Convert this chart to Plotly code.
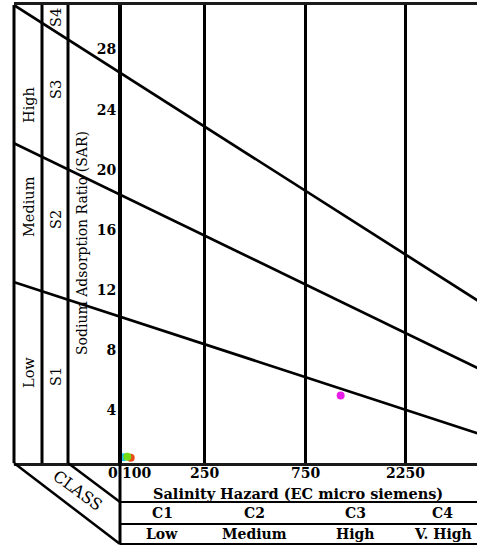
import math
import plotly.graph_objects as go

# Salinity (EC) classes, micro siemens
class_edges = [100, 250, 750, 2250, 5000]
class_codes = ["C1", "C2", "C3", "C4"]
class_names = ["Low", "Medium", "High", "V. High"]
ec_ticks = [100, 250, 750, 2250]
ec_tick_text = ["100", "250", "750", "2250"]
sar_ticks = [4, 8, 12, 16, 20, 24, 28]

# Sodium hazard boundaries: SAR at the two ends of the EC span
boundary_ec = [30, 5000]
boundary_s1_s2 = [12.15, 1.94]
boundary_s2_s3 = [21.45, 6.27]
boundary_s3_s4 = [30.69, 10.75]

# Water samples
sample_names = ["W1", "W2", "W3", "W4"]
sample_ec = [103.6, 112.4, 108.3, 1105]
sample_sar = [0.38, 0.35, 0.42, 4.5]
sample_colors = ["#19c3ea", "#ec4a1c", "#74dc14", "#e81ee8"]

W, H = 477, 546
ML, MR, MT, MB = 14, 0, 5, 83
PW, PH = W - ML - MR, H - MT - MB
SERIF = "DejaVu Serif"


def px_x(x):
    return (x - ML) / PW


def px_y(y):
    return (H - MB - y) / PH


fig = go.Figure()

for sar in (boundary_s1_s2, boundary_s2_s3, boundary_s3_s4):
    fig.add_trace(go.Scatter(x=boundary_ec, y=sar, mode="lines",
                             line=dict(color="black", width=2.7),
                             hoverinfo="skip", showlegend=False))

for name, ec, sar, col in zip(sample_names, sample_ec, sample_sar, sample_colors):
    fig.add_trace(go.Scatter(x=[ec], y=[sar], mode="markers", name=name,
                             marker=dict(color=col, size=8, line=dict(width=0)),
                             showlegend=False))

axis_x = px_x(120)
lw = 2.5
shapes = []


def seg(x0, y0, x1, y1, w=lw):
    shapes.append(dict(type="line", xref="paper", yref="paper",
                       x0=px_x(x0), y0=px_y(y0), x1=px_x(x1), y1=px_y(y1),
                       line=dict(color="black", width=w), layer="above"))


# class columns on the left
seg(14, 5, 14, 463, 3)
seg(42, 5, 42, 463, 3)
seg(68, 5, 68, 463, 3)
# bevelled foot
seg(14, 463, 120, 544)
seg(68, 463, 120, 502)
seg(120, 463, 120, 544, 3)
# salinity class table
for yy in (502, 524, 544):
    seg(120, yy, 480, yy, 2)

ann = []


def label(text, x, y, size=14, bold=False, angle=0, xanchor="center", xref="paper"):
    ann.append(dict(text=text, x=x, y=y, xref=xref, yref="paper",
                    showarrow=False, textangle=angle, xanchor=xanchor,
                    yanchor="middle",
                    font=dict(family=SERIF, size=size, color="black",
                              weight="bold" if bold else "normal")))


label("Sodium Adsorption Ratio (SAR)", px_x(82), px_y(243), size=14, angle=-90)
for t, y in (("High", 105), ("Medium", 207), ("Low", 373)):
    label(t, px_x(29), px_y(y), size=14.5, angle=-90)
for t, y in (("S4", 18), ("S3", 90), ("S2", 220), ("S1", 377)):
    label(t, px_x(56), px_y(y), size=14.5, angle=-90)
label("CLASS", px_x(78), px_y(490), size=16, angle=36)

# EC tick labels; the first edge is labelled "0" on the left and "100" on the right
label("0", math.log10(ec_ticks[0]), px_y(473), bold=True, xanchor="right", xref="x")
for i, (v, t) in enumerate(zip(ec_ticks, ec_tick_text)):
    label(t, math.log10(v), px_y(473), bold=True,
          xanchor="left" if i == 0 else "center", xref="x")
label("Salinity Hazard (EC micro siemens)", px_x(298), px_y(493), size=14.5, bold=True)
for i, (code, nm) in enumerate(zip(class_codes, class_names)):
    mid = (math.log10(class_edges[i]) + math.log10(class_edges[i + 1])) / 2
    label(code, mid, px_y(513), bold=True, xref="x")
    label(nm, mid, px_y(534), bold=True, xref="x")

fig.update_layout(
    width=W, height=H,
    margin=dict(l=ML, r=MR, t=MT, b=MB, pad=0),
    paper_bgcolor="white", plot_bgcolor="white",
    showlegend=False,
    shapes=shapes, annotations=ann,
    xaxis=dict(type="log", range=[1.499, 3.688],
               tickvals=ec_ticks, ticks="", showticklabels=False,
               showgrid=True, gridcolor="black", gridwidth=3,
               showline=True, linecolor="#1a1a1a", linewidth=2.5, mirror=True,
               zeroline=False),
    yaxis=dict(range=[0, 30.5], anchor="free", position=axis_x,
               tickvals=sar_ticks, ticks="",
               tickfont=dict(family=SERIF, size=14, color="black", weight="bold"),
               ticklabelshift=7,
               showgrid=False, zeroline=False,
               showline=True, linecolor="black", linewidth=3),
)

fig.write_html("out.html")
